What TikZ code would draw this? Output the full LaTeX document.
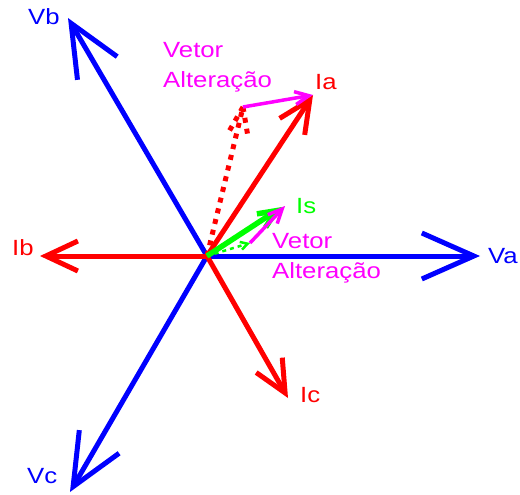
\documentclass[tikz,border=0pt]{standalone}
\usepackage{fontspec}
\newfontfamily\lblfont[FakeStretch=1.17]{Liberation Sans}
\usepackage{tikz}
\usetikzlibrary{arrows.meta, positioning}
\definecolor{vblue}{RGB}{0,0,255}
\definecolor{ired}{RGB}{255,0,0}
\definecolor{sgreen}{RGB}{0,255,0}
\definecolor{altmag}{RGB}{255,0,255}
\tikzset{
  vvec/.style={-{Straight Barb[length=52pt, width=46pt]}, line width=5pt,
    color=vblue},
  ivec/.style={-{Straight Barb[length=32pt, width=30pt]}, line width=5pt,
    color=ired},
  svec/.style={-{Straight Barb[length=18pt, width=16pt]}, line width=5.5pt,
    color=sgreen},
  altvec/.style={-{Straight Barb[length=14pt, width=13pt]}, line width=3.5pt,
    color=altmag},
  dotred/.style={line width=5pt, color=ired, dash pattern=on 5pt off 6pt},
  dotgreen/.style={-{Straight Barb[length=7pt, width=8pt]}, line width=2.5pt,
    color=sgreen, dash pattern=on 4pt off 4pt},
  lbl/.style={font=\lblfont\fontsize{22}{30}\selectfont, inner sep=0pt,
    anchor=base west},
  altlbl/.style={lbl, color=altmag, align=left, anchor=north west}
}

\begin{document}
\begin{tikzpicture}[x=1pt, y=-1pt]
  \useasboundingbox (0,0) rectangle (520,495);
  \fill[white] (0,0) rectangle (520,495);

  \coordinate (o) at (207,256);

  % --- Tensoes ---
  \coordinate (va) at (480,256);
  \coordinate (vb) at (68,18);
  \coordinate (vc) at (70,492);
  \draw[vvec] (o) -- (va);
  \draw[vvec] (o) -- (vb);
  \draw[vvec] (o) -- (vc);
  \node[lbl, text=vblue] (vaL) at (488,263) {Va};
  \node[lbl, text=vblue] (vbL) at (28,25) {Vb};
  \node[lbl, text=vblue] (vcL) at (27,483) {Vc};

  % --- Correntes ---
  \coordinate (ia) at (313,95);
  \coordinate (ib) at (40,256);
  \coordinate (ic) at (288,398);
  \draw[ivec] (o) -- (ia);
  \draw[ivec] (o) -- (ib);
  \draw[ivec] (o) -- (ic);
  \node[lbl, text=ired] (iaL) at (315,90) {Ia};
  \node[lbl, text=ired] (ibL) at (12,255) {Ib};
  \node[lbl, text=ired] (icL) at (300,402) {Ic};

  % --- Ia antes da alteracao ---
  \coordinate (dt) at (243,107);
  \draw[dotred] (o) -- (dt);
  \draw[dotred] (dt) -- ++(-16,28);
  \draw[dotred] (dt) -- ++(5,30);
  \draw[altvec] (dt) -- (ia);
  \node[altlbl] (altA) at (163,42) {Vetor\\Alteração};

  % --- Is ---
  \coordinate (is) at (282,207);
  \coordinate (gd) at (250,243);
  \draw[dotgreen] (o) -- (gd);
  \draw[svec] (o) -- (is);
  \draw[altvec] (gd) -- (285,206) coordinate (isAlt);
  \node[lbl, text=sgreen] (isL) at (296,213) {Is};
  \node[altlbl] (altS) at (272,233) {Vetor\\Alteração};
\end{tikzpicture}
\end{document}
